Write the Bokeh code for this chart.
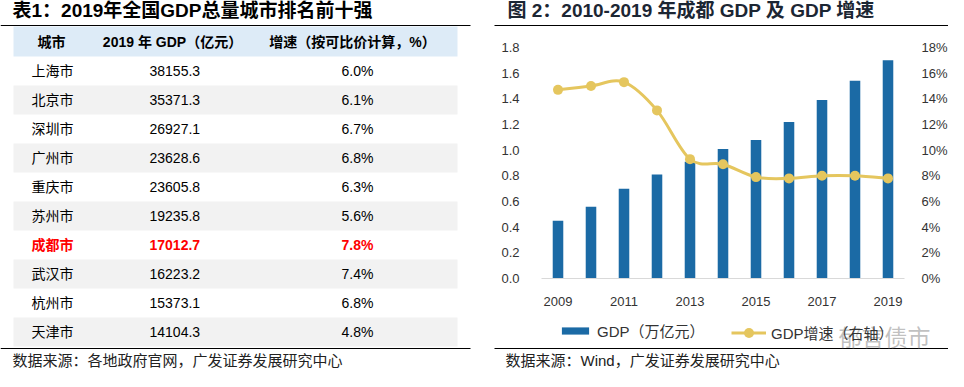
from bokeh.plotting import figure
from bokeh.models import (Range1d, LinearAxis, FixedTicker, PrintfTickFormatter,
                          Legend, LegendItem, ColumnDataSource)
from bokeh.core.properties import value
from bokeh.embed import file_html
from bokeh.resources import INLINE

# ---------------- data ----------------
table_title = "表1：2019年全国GDP总量城市排名前十强"
table_headers = ["城市", "2019 年 GDP（亿元）", "增速（按可比价计算，%）"]
cities = ["上海市", "北京市", "深圳市", "广州市", "重庆市", "苏州市", "成都市", "武汉市", "杭州市", "天津市"]
gdp_2019 = [38155.3, 35371.3, 26927.1, 23628.6, 23605.8, 19235.8, 17012.7, 16223.2, 15373.1, 14104.3]
growth_2019 = [6.0, 6.1, 6.7, 6.8, 6.3, 5.6, 7.8, 7.4, 6.8, 4.8]
highlight_city = "成都市"
table_source = "数据来源：各地政府官网，广发证券发展研究中心"

chart_title = "图 2：2010-2019 年成都 GDP 及 GDP 增速"
years = [2009, 2010, 2011, 2012, 2013, 2014, 2015, 2016, 2017, 2018, 2019]
cd_gdp = [0.45, 0.56, 0.70, 0.81, 0.91, 1.01, 1.08, 1.22, 1.39, 1.54, 1.70]
cd_growth = [14.7, 15.0, 15.3, 13.1, 9.3, 8.9, 7.9, 7.8, 8.0, 8.0, 7.8]
year_ticks = [2009, 2011, 2013, 2015, 2017, 2019]
gdp_ticks = [0.0, 0.2, 0.4, 0.6, 0.8, 1.0, 1.2, 1.4, 1.6, 1.8]
growth_ticks = [0, 2, 4, 6, 8, 10, 12, 14, 16, 18]
series_labels = ["GDP（万亿元）", "GDP增速（右轴）"]
chart_source = "数据来源：Wind，广发证券发展研究中心"
watermark = "郁言债市"

# ---------------- style / layout (pixels) ----------------
FONT = "Liberation Sans, Noto Sans CJK SC"
BAR_COLOR = "#1B6AA5"
LINE_COLOR = "#E5C65E"
TEXT_COLOR = "#222222"
W, H = 948, 371
# plot area of the chart, in pixels
PX_LEFT, PX_RIGHT, PX_TOP, PX_BOTTOM = 541, 904, 47, 278
X_LO, X_HI = years[0] - 0.5, years[-1] + 0.5
Y_LO, Y_HI = gdp_ticks[0], gdp_ticks[-1]
R_LO, R_HI = growth_ticks[0], growth_ticks[-1]

ppx = (PX_RIGHT - PX_LEFT) / (X_HI - X_LO)
ppy = (PX_BOTTOM - PX_TOP) / (Y_HI - Y_LO)
ppr = (PX_BOTTOM - PX_TOP) / (R_HI - R_LO)
x_range = Range1d(X_LO - PX_LEFT / ppx, X_HI + (W - PX_RIGHT) / ppx)
y_range = Range1d(Y_LO - (H - PX_BOTTOM) / ppy, Y_HI + PX_TOP / ppy)

p = figure(width=W, height=H, x_range=x_range, y_range=y_range,
           x_axis_location=None, y_axis_location=None,
           output_backend="svg", toolbar_location=None, min_border=0)
p.outline_line_color = None
p.grid.visible = False
p.extra_y_ranges = {"rate": Range1d(R_LO - (H - PX_BOTTOM) / ppr, R_HI + PX_TOP / ppr),
                    "py": Range1d(H, 0)}
p.extra_x_ranges = {"px": Range1d(0, W)}
PXY = dict(x_range_name="px", y_range_name="py")

# ---------------- titles, rules, sources ----------------
p.text(x=[12, 507], y=[10, 10], text=[table_title, chart_title], text_font=value(FONT),
       text_font_size="19px", text_font_style="bold", text_color=["black", "#1C2633"],
       text_baseline="middle", text_align="left", **PXY)
p.segment(x0=[0, 494, 0, 494], y0=[25, 25, 348, 348], x1=[470, W, 470, W], y1=[25, 25, 348, 348],
          line_color="black", line_width=1, **PXY)
p.text(x=[12, 505], y=[360, 360], text=[table_source, chart_source], text_font=value(FONT),
       text_font_size="15px", text_color=TEXT_COLOR, text_baseline="middle", text_align="left", **PXY)

# ---------------- table ----------------
header_top, header_bottom = 26, 56
row_h = 29.0
n = len(cities)
row_tops = [header_bottom + row_h * i for i in range(n)]
row_centers = [t + row_h / 2 for t in row_tops]

p.quad(left=13, right=457, top=[header_top], bottom=[header_bottom], fill_color="#DDEBF7",
       line_color=None, **PXY)
gray_idx = [i for i in range(n) if i % 2 == 1]
p.quad(left=13, right=457, top=[row_tops[i] for i in gray_idx],
       bottom=[row_tops[i] + row_h for i in gray_idx], fill_color="#F2F2F2", line_color=None, **PXY)

hy = (header_top + header_bottom) / 2
p.text(x=[51, 172, 352], y=[hy] * 3, text=table_headers, text_font=value(FONT), text_font_size="14px",
       text_font_style="bold", text_color="black", text_baseline="middle", text_align="center", **PXY)

normal = [i for i in range(n) if cities[i] != highlight_city]
hl = [i for i in range(n) if cities[i] == highlight_city]
for idxs, color, style in ((normal, "black", "normal"), (hl, "#FF0000", "bold")):
    src = ColumnDataSource(dict(
        y=[row_centers[i] for i in idxs],
        city=[cities[i] for i in idxs],
        gdp=[f"{gdp_2019[i]:.1f}" for i in idxs],
        gr=[f"{growth_2019[i]:.1f}%" for i in idxs],
    ))
    for xpos, col in ((31, "city"), (149, "gdp"), (341, "gr")):
        p.text(x=xpos, y="y", text=col, source=src, text_font=value(FONT), text_font_size="14px",
               text_font_style=style, text_color=color, text_baseline="middle", text_align="left", **PXY)

# ---------------- chart ----------------
bars = p.vbar(x=years, top=cd_gdp, width=0.32, fill_color=BAR_COLOR, line_color=None)


def bezier_segments(xs, ys, t=1 / 6):
    m = len(xs)
    seg = dict(x0=[], y0=[], x1=[], y1=[], cx0=[], cy0=[], cx1=[], cy1=[])
    for i in range(m - 1):
        a, d = max(i - 1, 0), min(i + 2, m - 1)
        seg["x0"].append(xs[i]); seg["y0"].append(ys[i])
        seg["x1"].append(xs[i + 1]); seg["y1"].append(ys[i + 1])
        seg["cx0"].append(xs[i] + (xs[i + 1] - xs[a]) * t)
        seg["cy0"].append(ys[i] + (ys[i + 1] - ys[a]) * t)
        seg["cx1"].append(xs[i + 1] - (xs[d] - xs[i]) * t)
        seg["cy1"].append(ys[i + 1] - (ys[d] - ys[i]) * t)
    return seg


curve_src = ColumnDataSource(bezier_segments(years, cd_growth))
p.bezier(x0="x0", y0="y0", x1="x1", y1="y1", cx0="cx0", cy0="cy0", cx1="cx1", cy1="cy1",
         source=curve_src, line_color=LINE_COLOR, line_width=3, y_range_name="rate")
pts = p.scatter(x=years, y=cd_growth, size=10, fill_color=LINE_COLOR, line_color=None,
                y_range_name="rate")
# one-point line: draws no segment itself, only provides the legend's line glyph
proxy = p.line(x=years[:1], y=cd_growth[:1], line_color=LINE_COLOR, line_width=3, y_range_name="rate")

xaxis = LinearAxis(ticker=FixedTicker(ticks=year_ticks), fixed_location=Y_LO, bounds=(X_LO, X_HI),
                   axis_line_color="#D9D9D9", major_tick_line_color=None, minor_tick_line_color=None,
                   major_label_standoff=12)
yaxis = LinearAxis(ticker=FixedTicker(ticks=gdp_ticks), formatter=PrintfTickFormatter(format="%.1f"),
                   fixed_location=X_LO, bounds=(Y_LO, Y_HI), axis_line_color=None,
                   major_tick_line_color=None, minor_tick_line_color=None, major_label_standoff=16)
raxis = LinearAxis(y_range_name="rate", ticker=FixedTicker(ticks=growth_ticks),
                   formatter=PrintfTickFormatter(format="%d%%"), fixed_location=X_HI,
                   bounds=(R_LO, R_HI), axis_line_color=None, major_tick_line_color=None,
                   minor_tick_line_color=None, major_label_standoff=11)
for ax in (xaxis, yaxis, raxis):
    ax.major_label_text_font = FONT
    ax.major_label_text_font_size = "13px"
    ax.major_label_text_color = "#333333"
p.add_layout(xaxis, "below")
p.add_layout(yaxis, "left")
p.add_layout(raxis, "right")

p.text(x=[838], y=[337], text=[watermark], text_font=value(FONT), text_font_size="23px",
       text_color="#8C8C8C", text_alpha=0.55, text_baseline="middle", text_align="left", **PXY)

legend_style = dict(orientation="horizontal", label_standoff=5, padding=0, margin=0,
                    border_line_color=None, background_fill_alpha=0,
                    label_text_font=FONT, label_text_font_size="15px", label_text_color="#333333")
legend_bar = Legend(items=[LegendItem(label=series_labels[0], renderers=[bars])],
                    location=(558, 30), glyph_width=34, glyph_height=9, **legend_style)
legend_line = Legend(items=[LegendItem(label=series_labels[1], renderers=[proxy, pts])],
                     location=(731, 26), glyph_width=35, glyph_height=25, **legend_style)
p.add_layout(legend_bar, "center")
p.add_layout(legend_line, "center")

open("out.html", "w").write(file_html(p, INLINE))
